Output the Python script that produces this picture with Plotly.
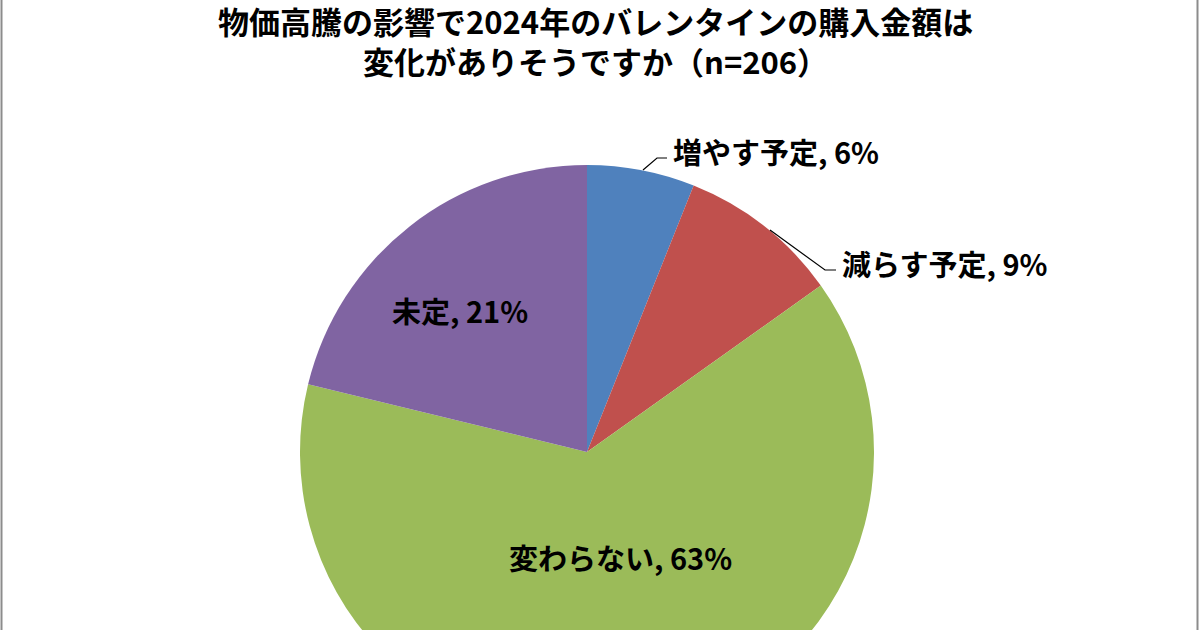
import plotly.graph_objects as go

# Survey answers (n=206)
labels = ["増やす予定", "減らす予定", "変わらない", "未定"]
values = [6, 9, 63, 21]
colors = ["#4F81BD", "#C0504D", "#9BBB59", "#8064A2"]

title_lines = ["物価高騰の影響で2024年のバレンタインの購入金額は", "変化がありそうですか（n=206）"]

W, H = 1200, 739
TOP = 165          # top margin above the pie area (px)
PLOT_H = H - TOP   # pie area height (px)


def px_x(x):
    return x / W


def px_y(y):
    return 1 - (y - TOP) / PLOT_H


fig = go.Figure(
    go.Pie(
        labels=labels,
        values=values,
        sort=False,
        direction="clockwise",
        rotation=0,
        marker=dict(colors=colors, line=dict(width=0)),
        textinfo="none",
        hoverinfo="label+value",
        showlegend=False,
        domain=dict(x=[px_x(300), px_x(874)], y=[0, 1]),
    )
)

label_font = dict(family="Noto Sans CJK JP", size=29, color="#000000")

# label placement: (x_px, y_px, anchor)
label_pos = [
    (671, 151, "left"),
    (840, 263, "left"),
    (620, 557, "center"),
    (460, 310, "center"),
]
for lab, val, (x, y, anchor) in zip(labels, values, label_pos):
    fig.add_annotation(
        x=px_x(x), y=px_y(y), xref="paper", yref="paper",
        text=f"<b>{lab}, {val}%</b>", showarrow=False,
        xanchor=anchor, yanchor="middle", font=label_font,
    )

# leader lines for the two small slices
leaders = [
    [(643, 170), (657, 158), (667, 158)],
    [(770, 230), (825, 270), (836, 270)],
]
for pts in leaders:
    path = "M " + " L ".join(f"{px_x(x)},{px_y(y)}" for x, y in pts)
    fig.add_shape(type="path", path=path, xref="paper", yref="paper",
                  line=dict(color="#000000", width=1.2))

# chart frame (left and right edges)
for x in (1.5, 1197.5):
    fig.add_shape(type="line", xref="paper", yref="paper",
                  x0=px_x(x), x1=px_x(x), y0=px_y(0), y1=px_y(H),
                  line=dict(color="#8c8c8c", width=2))

# two-line title
fig.add_annotation(
    x=px_x(595), y=px_y(40), xref="paper", yref="paper",
    text="<b>" + "<br>".join(title_lines) + "</b>", showarrow=False,
    xanchor="center", yanchor="middle",
    font=dict(family="Noto Sans CJK JP", size=31, color="#000000"),
)

fig.update_layout(
    width=W, height=H,
    margin=dict(l=0, r=0, t=TOP, b=0),
    paper_bgcolor="#ffffff",
    plot_bgcolor="#ffffff",
)

fig.write_html(
    "out.html",
    post_script="document.documentElement.style.overflow='hidden';"
                "document.body.style.overflow='hidden';"
                "document.body.style.margin='0';",
)
